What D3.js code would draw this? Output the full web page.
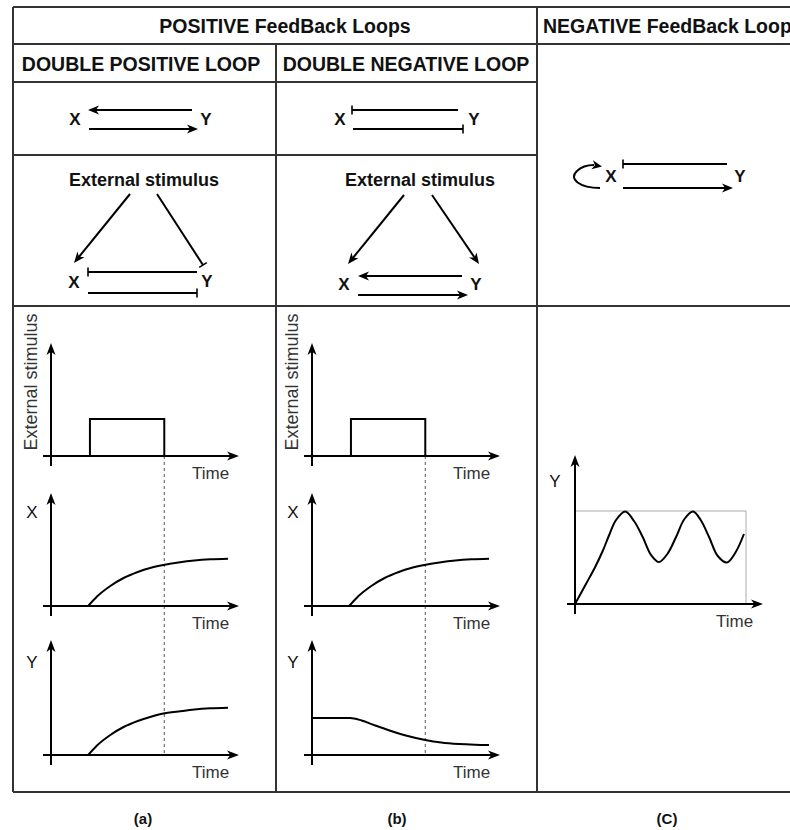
<!DOCTYPE html>
<html>
<head>
<meta charset="utf-8">
<script src="https://cdn.jsdelivr.net/npm/d3@7"></script>
<style>
  body { margin: 0; background: #fff; }
  svg { display: block; font-family: "Liberation Sans", Arial, sans-serif; }
</style>
</head>
<body>
<div id="chart"></div>
<script>
// Curvas (tempo 0..10, amplitude em unidades ~px)
const stimTime  = [0, 2.2, 2.2, 6.4, 6.4];
const stimLevel = [0, 0, 37, 37, 0];
const stimOff = 6.4;

const riseTime = [2.1, 2.6, 3.35, 4.1, 4.9, 5.6, 6.35, 7.2, 8.1, 9, 10];
const xRise    = [0, 9.5, 20, 28, 34, 38, 41, 43.5, 45.5, 46.7, 47.3];
const yRiseA   = [0, 9.5, 20, 28, 34, 38, 41.5, 43.5, 45.5, 46.7, 47.3];

const fallTime = [0, 2.15, 2.8, 3.5, 4.3, 5.3, 6.4, 7.3, 8.3, 9.2, 10];
const yFallB   = [37, 37, 34.5, 30, 25, 19.5, 15, 12.5, 11, 10.3, 10];

const oscTime = [0, 0.64, 1.15, 1.62, 2.0, 2.4, 2.94, 3.45, 3.96, 4.45, 4.91, 5.4, 5.91, 6.4, 6.9, 7.35, 7.84, 8.35, 8.89, 9.4, 9.88];
const oscY    = [0, 20, 36, 53, 69, 84, 92.5, 83, 67, 49, 42, 50, 67, 85, 92.5, 84, 67, 48, 41.5, 52, 70];
const oscCeiling = 93;

const panelLabels = ["(a)", "(b)", "(C)"];

const W = 790, H = 830;
const ink = "#333";

const svg = d3.select("#chart").append("svg")
    .attr("width", W)
    .attr("height", H);

// --- grade da tabela ---
const hLines = [[13, 820, 7], [13, 820, 44], [13, 537, 82], [13, 537, 155], [13, 820, 306], [13, 820, 792]];
const vLines = [[13, 7, 792], [276, 44, 792], [537, 7, 792]];

svg.append("g").selectAll("line")
    .data(hLines)
    .join("line")
    .attr("x1", d => d[0]).attr("x2", d => d[1])
    .attr("y1", d => d[2]).attr("y2", d => d[2])
    .attr("stroke", ink).attr("stroke-width", 2);

svg.append("g").selectAll("line")
    .data(vLines)
    .join("line")
    .attr("x1", d => d[0]).attr("x2", d => d[0])
    .attr("y1", d => d[1]).attr("y2", d => d[2])
    .attr("stroke", ink).attr("stroke-width", 2);

// cabeçalhos
const headers = [
    { t: "POSITIVE FeedBack Loops", x: 285, y: 33, a: "middle" },
    { t: "NEGATIVE FeedBack Loop", x: 543, y: 33, a: "start" },
    { t: "DOUBLE POSITIVE LOOP", x: 141, y: 71, a: "middle" },
    { t: "DOUBLE NEGATIVE LOOP", x: 406, y: 71, a: "middle" }
];
svg.append("g").selectAll("text")
    .data(headers)
    .join("text")
    .attr("x", d => d.x).attr("y", d => d.y)
    .attr("text-anchor", d => d.a)
    .attr("font-size", 19.5).attr("font-weight", "bold")
    .attr("fill", "#111")
    .text(d => d.t);

// --- setas e barras de inibição ---
const diag = svg.append("g");

function head(g, x, y, ang, L = 11, w = 4.5) {
    g.append("path")
        .attr("d", `M0,0 L${-L},${-w} L${-L * 0.72},0 L${-L},${w} Z`)
        .attr("transform", `translate(${x},${y}) rotate(${ang * 180 / Math.PI})`)
        .attr("fill", "#000");
}

function bar(g, x, y, ang) {
    const s = Math.sin(ang), c = Math.cos(ang);
    g.append("line")
        .attr("x1", x - s * 4.5).attr("y1", y + c * 4.5)
        .attr("x2", x + s * 4.5).attr("y2", y - c * 4.5)
        .attr("stroke", "#000").attr("stroke-width", 1.6);
}

function edge(g, x1, y1, x2, y2, end) {
    const a = Math.atan2(y2 - y1, x2 - x1);
    let bx = x2, by = y2;
    if (end === "arrow") { bx -= Math.cos(a) * 7; by -= Math.sin(a) * 7; }
    g.append("line")
        .attr("x1", x1).attr("y1", y1).attr("x2", bx).attr("y2", by)
        .attr("stroke", "#000").attr("stroke-width", 2);
    if (end === "arrow") head(g, x2, y2, a);
    if (end === "bar") bar(g, x2, y2, a);
}

function label(g, t, x, y, size = 17, bold = true) {
    g.append("text")
        .attr("x", x).attr("y", y)
        .attr("text-anchor", "middle")
        .attr("font-size", size)
        .attr("font-weight", bold ? "bold" : "normal")
        .attr("fill", "#111")
        .text(t);
}

// (a) laço duplo positivo
label(diag, "X", 75, 125); label(diag, "Y", 206, 125);
edge(diag, 192, 110, 88, 110, "arrow");
edge(diag, 89, 129, 198, 129, "arrow");

// (b) laço duplo negativo
label(diag, "X", 340, 125); label(diag, "Y", 474, 125);
edge(diag, 458, 110, 352, 110, "bar");
edge(diag, 353, 129, 463, 129, "bar");

// (a) com estímulo externo
label(diag, "External stimulus", 144, 186, 18);
edge(diag, 130, 194, 74, 263, "arrow");
edge(diag, 157, 194, 203, 265, "bar");
label(diag, "X", 74, 288); label(diag, "Y", 207, 287);
edge(diag, 197, 272, 88, 272, "bar");
edge(diag, 88, 293, 197, 293, "bar");

// (b) com estímulo externo
label(diag, "External stimulus", 420, 186, 18);
edge(diag, 404, 195, 348, 264, "arrow");
edge(diag, 432, 195, 479, 264, "arrow");
label(diag, "X", 344, 290); label(diag, "Y", 476, 290);
edge(diag, 462, 276, 358, 276, "arrow");
edge(diag, 358, 295, 468, 295, "arrow");

// (c) laço negativo
label(diag, "X", 611, 182); label(diag, "Y", 740, 182);
edge(diag, 727, 164, 623, 164, "bar");
edge(diag, 623, 188, 733, 188, "arrow");
diag.append("path")
    .attr("d", "M600,188 C580,188 568,179 577,171 C582,166 588,165 594,165")
    .attr("fill", "none").attr("stroke", "#000").attr("stroke-width", 2);
head(diag, 602, 166.5, 10 * Math.PI / 180, 10, 4.5);

// --- gráficos temporais ---
const plots = svg.append("g");

function axes(ox, oy, up) {
    plots.append("line")
        .attr("x1", ox - 8).attr("x2", ox + 181).attr("y1", oy).attr("y2", oy)
        .attr("stroke", "#000").attr("stroke-width", 2);
    head(plots, ox + 188, oy, 0, 12, 4.5);
    plots.append("line")
        .attr("x1", ox).attr("x2", ox).attr("y1", oy + 10).attr("y2", oy - up + 7)
        .attr("stroke", "#000").attr("stroke-width", 2);
    head(plots, ox, oy - up, -Math.PI / 2, 12, 4.5);
    plots.append("text")
        .attr("x", ox + 141).attr("y", oy + 23)
        .attr("font-size", 17).attr("fill", "#333")
        .text("Time");
}

function curve(x, y, ts, vs, c = d3.curveMonotoneX) {
    const line = d3.line()
        .x(d => x(d[0]))
        .y(d => y(d[1]))
        .curve(c);
    plots.append("path")
        .attr("d", line(d3.zip(ts, vs)))
        .attr("fill", "none")
        .attr("stroke", "#000")
        .attr("stroke-width", 2);
}

const rows = [456, 606, 755];
const panels = [
    { ox: 51, yTime: riseTime, yVals: yRiseA },
    { ox: 312, yTime: fallTime, yVals: yFallB }
];

panels.forEach(p => {
    const x = d3.scaleLinear().domain([0, 10]).range([p.ox, p.ox + 177]);
    const ys = rows.map(oy => d3.scaleLinear().domain([0, 100]).range([oy, oy - 100]));

    plots.append("line")
        .attr("x1", x(stimOff)).attr("x2", x(stimOff))
        .attr("y1", rows[0]).attr("y2", rows[2])
        .attr("stroke", "#555").attr("stroke-width", 1)
        .attr("stroke-dasharray", "3,3");

    rows.forEach((oy, i) => axes(p.ox, oy, i === 2 ? 115 : 113));

    curve(x, ys[0], stimTime, stimLevel, d3.curveLinear);
    curve(x, ys[1], riseTime, xRise);
    curve(x, ys[2], p.yTime, p.yVals);

    plots.append("text")
        .attr("transform", `translate(${p.ox - 20},382) rotate(-90)`)
        .attr("text-anchor", "middle").attr("dy", "0.35em")
        .attr("font-size", 18).attr("fill", "#333")
        .text("External stimulus");
    label(plots, "X", p.ox - 19, 518, 17, false);
    label(plots, "Y", p.ox - 19, 668, 17, false);
});

// (c) oscilação amortecida
{
    const ox = 575, oy = 604;
    const x = d3.scaleLinear().domain([0, 10]).range([ox, ox + 171]);
    const y = d3.scaleLinear().domain([0, 100]).range([oy, oy - 100]);
    plots.append("path")
        .attr("d", `M${x(0)},${y(oscCeiling)} H${x(10)} V${y(0)}`)
        .attr("fill", "none").attr("stroke", "#aaa").attr("stroke-width", 1);
    axes(ox, oy, 149);
    curve(x, y, oscTime, oscY, d3.curveCatmullRom);
    label(plots, "Y", ox - 20, 487, 17, false);
}

// rótulos dos painéis
const labelX = [143, 397, 667];
svg.append("g").selectAll("text")
    .data(panelLabels)
    .join("text")
    .attr("x", (d, i) => labelX[i]).attr("y", 824)
    .attr("text-anchor", "middle")
    .attr("font-size", 15).attr("font-weight", "bold")
    .attr("fill", "#111")
    .text(d => d);
</script>
</body>
</html>
